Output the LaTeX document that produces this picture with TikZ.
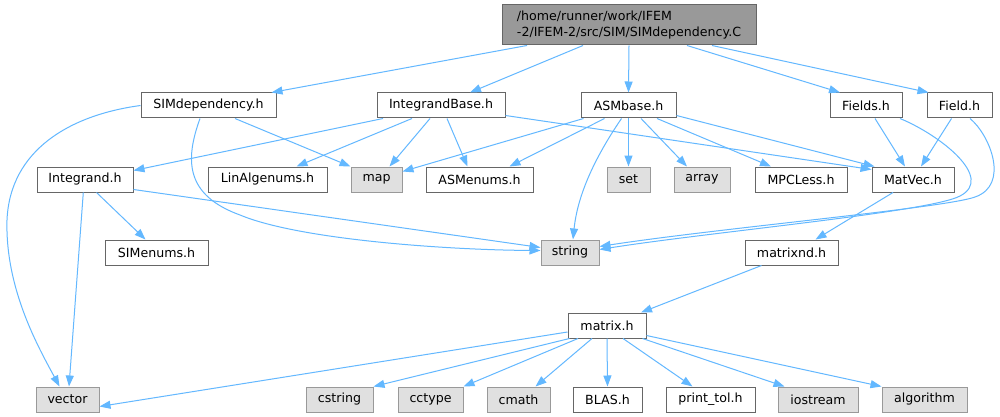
\documentclass[tikz,border=0pt]{standalone}
\usepackage{fontspec}
\setmainfont{DejaVu Sans}
\usetikzlibrary{arrows.meta}
\definecolor{edgec}{HTML}{63B8FF}
\definecolor{wborder}{HTML}{666666}
\definecolor{gborder}{HTML}{999999}
\definecolor{gfill}{HTML}{E0E0E0}
\definecolor{rootfill}{HTML}{999999}
\begin{document}
\begin{tikzpicture}[x=1pt,y=-1pt,
  base/.style={rectangle,inner sep=0pt,minimum height=25pt,line width=1pt,font=\fontsize{12.6}{16}\selectfont,text=black},
  wbox/.style={base,draw=wborder,fill=white},
  gbox/.style={base,draw=gborder,fill=gfill},
  rootbox/.style={base,draw=wborder,fill=rootfill,align=left,minimum height=40pt},
  dep/.style={draw=edgec,line width=1pt,-{Triangle[length=11pt,width=8pt]}}]
\useasboundingbox (0,0) rectangle (1000,417);
\fill[white] (0,0) rectangle (1000,417);
% nodes
\node[rootbox,minimum width=254pt] (root) at (629,25) {/home/runner/work/IFEM\\-2/IFEM-2/src/SIM/SIMdependency.C};
\node[wbox,minimum width=135pt] (sd) at (208.5,105.5) {SIMdependency.h};
\node[wbox,minimum width=128pt] (ib) at (441,105.5) {IntegrandBase.h};
\node[wbox,minimum width=95pt] (asm) at (628.5,105.5) {ASMbase.h};
\node[wbox,minimum width=72pt] (fields) at (866,105.5) {Fields.h};
\node[wbox,minimum width=65pt] (field) at (959.5,105.5) {Field.h};
\node[wbox,minimum width=96pt] (integ) at (85,179.5) {Integrand.h};
\node[wbox,minimum width=119pt] (lin) at (267.5,179.5) {LinAlgenums.h};
\node[gbox,minimum width=51pt] (map) at (376.5,179.5) {map};
\node[wbox,minimum width=107pt] (asmenums) at (479.5,179.5) {ASMenums.h};
\node[gbox,minimum width=43pt] (set) at (628.5,179.5) {set};
\node[gbox,minimum width=56pt] (array) at (702,179.5) {array};
\node[wbox,minimum width=92pt] (mpc) at (801,179.5) {MPCLess.h};
\node[wbox,minimum width=82pt] (matvec) at (913,179.5) {MatVec.h};
\node[wbox,minimum width=103pt] (simenums) at (156.5,252.5) {SIMenums.h};
\node[gbox,minimum width=58pt] (string) at (570,252.5) {string};
\node[wbox,minimum width=93pt] (matrixnd) at (791.5,252.5) {matrixnd.h};
\node[wbox,minimum width=78pt] (matrix) at (607,325.5) {matrix.h};
\node[gbox,minimum width=63pt] (vector) at (67.5,399.5) {vector};
\node[gbox,minimum width=67pt] (cstring) at (339.5,399.5) {cstring};
\node[gbox,minimum width=65pt] (cctype) at (430.5,399.5) {cctype};
\node[gbox,minimum width=63pt] (cmath) at (518.5,399.5) {cmath};
\node[wbox,minimum width=69pt] (blas) at (607.5,399.5) {BLAS.h};
\node[wbox,minimum width=89pt] (printtol) at (710.5,399.5) {print\_tol.h};
\node[gbox,minimum width=80pt] (iostream) at (818,399.5) {iostream};
\node[gbox,minimum width=85pt] (algorithm) at (924.5,399.5) {algorithm};
% edges from root
\draw[dep] ([xshift=-102pt]root.south) -- ([xshift=63pt]sd.north);
\draw[dep] ([xshift=-46pt]root.south) -- ([xshift=29pt]ib.north);
\draw[dep] (root.south) -- (asm.north);
\draw[dep] ([xshift=58pt]root.south) -- ([xshift=-26pt]fields.north);
\draw[dep] ([xshift=83pt]root.south) -- ([xshift=2pt]field.north west);
% SIMdependency.h
\draw[dep] (sd.west) .. controls (70,115) and (10,150) .. (7,220) .. controls (5,290) and (40,350) .. ([xshift=-8pt]vector.north);
\draw[dep] ([xshift=26.5pt]sd.south) -- (map.north west);
\draw[dep] ([xshift=-8.5pt]sd.south) .. controls (185,160) and (185,195) .. (240,215) .. controls (300,240) and (450,250) .. ([yshift=2pt]string.west);
% IntegrandBase.h
\draw[dep] ([xshift=-58pt]ib.south) -- ([yshift=-4pt]integ.north east);
\draw[dep] ([xshift=-29pt]ib.south) -- ([xshift=29pt]lin.north);
\draw[dep] ([xshift=-11pt]ib.south) -- ([xshift=13pt]map.north);
\draw[dep] ([xshift=6pt]ib.south) -- ([xshift=-12pt]asmenums.north);
\draw[dep] ([yshift=3pt]ib.south east) -- ([yshift=-3pt]matvec.north west);
% ASMbase.h
\draw[dep] ([xshift=3pt]asm.south west) -- ([yshift=8pt]map.east);
\draw[dep] ([xshift=-24pt]asm.south) -- ([xshift=30pt]asmenums.north);
\draw[dep] ([xshift=-7pt]asm.south) .. controls (600,150) and (578,190) .. ([xshift=3pt]string.north);
\draw[dep] (asm.south) -- (set.north);
\draw[dep] ([xshift=12.5pt]asm.south) -- ([xshift=-15pt]array.north);
\draw[dep] ([xshift=28.5pt]asm.south) -- ([xshift=-30pt]mpc.north);
\draw[dep] ([yshift=3pt]asm.south east) -- ([xshift=3pt]matvec.north west);
% Fields.h / Field.h
\draw[dep] ([xshift=9pt]fields.south) -- ([xshift=-8pt]matvec.north);
\draw[dep] ([xshift=34pt]fields.south) .. controls (940,135) and (995,178) .. (960,196) .. controls (930,212) and (710,232) .. ([yshift=3pt]string.east);
\draw[dep] ([xshift=-8pt]field.south) -- ([xshift=8pt]matvec.north);
\draw[dep] ([xshift=10.5pt]field.south) .. controls (990,135) and (1010,185) .. (975,197) .. controls (945,208) and (720,228) .. ([yshift=6pt]string.east);
% MatVec.h, matrixnd.h
\draw[dep] ([xshift=-20pt]matvec.south) -- ([xshift=24pt]matrixnd.north);
\draw[dep] ([xshift=-30pt]matrixnd.south) -- ([xshift=34pt]matrix.north);
% Integrand.h
\draw[dep] ([xshift=-1.7pt]integ.south) -- ([xshift=1.5pt]vector.north);
\draw[dep] ([xshift=11.5pt]integ.south) -- ([xshift=-11pt]simenums.north);
\draw[dep] ([yshift=3pt]integ.south east) -- ([yshift=5pt]string.west);
% matrix.h
\draw[dep] ([yshift=-6.5pt]matrix.west) -- ([yshift=-7pt]vector.east);
\draw[dep] ([xshift=2pt]matrix.south west) -- (cstring.north east);
\draw[dep] ([xshift=-29pt]matrix.south) -- (cctype.north east);
\draw[dep] ([xshift=-15pt]matrix.south) -- ([xshift=17pt]cmath.north);
\draw[dep] (matrix.south) -- (blas.north);
\draw[dep] ([xshift=16pt]matrix.south) -- ([xshift=-18pt]printtol.north);
\draw[dep] ([xshift=-4pt]matrix.south east) -- ([xshift=7pt]iostream.north west);
\draw[dep] ([yshift=3pt]matrix.south east) -- (algorithm.north west);
\end{tikzpicture}
\end{document}
